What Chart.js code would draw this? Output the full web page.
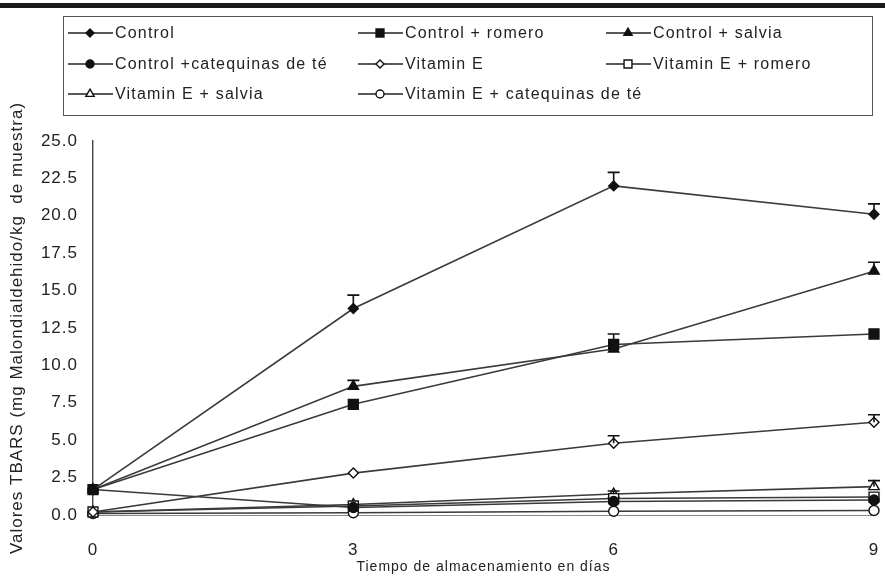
<!DOCTYPE html>
<html>
<head>
<meta charset="utf-8">
<script src="https://cdn.jsdelivr.net/npm/chart.js@4.4.1/dist/chart.umd.min.js"></script>
<style>
  html, body { margin: 0; padding: 0; background: #fff; }
  #wrap { width: 885px; height: 581px; position: relative; }
</style>
</head>
<body>
<div id="wrap"><canvas id="canvas"></canvas></div>
<script>
// storage days
var days = [0, 3, 6, 9];

var labels = [
  "Control", "Control + romero", "Control + salvia",
  "Control +catequinas de té", "Vitamin E", "Vitamin E + romero",
  "Vitamin E + salvia", "Vitamin E + catequinas de té"
];

// TBARS values
var control        = [1.7, 13.8, 22.0, 20.1];
var controlRomero  = [1.7, 7.4, 11.4, 12.1];
var controlSalvia  = [1.7, 8.6, 11.1, 16.3];
var controlCateq   = [1.7, 0.5, 0.9, 1.0];
var vitE           = [0.2, 2.8, 4.8, 6.2];
var vitERomero     = [0.2, 0.6, 1.1, 1.2];
var vitESalvia     = [0.2, 0.7, 1.4, 1.9];
var vitECateq      = [0.1, 0.15, 0.25, 0.3];

// upper error bars
var errControl       = [0, 0.9, 0.9, 0.7];
var errControlRomero = [0, 0, 0.7, 0];
var errControlSalvia = [0, 0.4, 0, 0.6];
var errVitE          = [0, 0, 0.5, 0.5];
var errVitESalvia    = [0, 0, 0.2, 0.4];

var yTicks = [0, 2.5, 5, 7.5, 10, 12.5, 15, 17.5, 20, 22.5, 25];

var seriesValues = [control, controlRomero, controlSalvia, controlCateq, vitE, vitERomero, vitESalvia, vitECateq];
var seriesErrors = [errControl, errControlRomero, errControlSalvia, null, errVitE, null, errVitESalvia, null];
var styles  = ['rectRot', 'rect', 'triangle', 'circle', 'rectRot', 'rect', 'triangle', 'circle'];
var filled  = [true, true, true, true, false, false, false, false];
var radii   = [5, 7, 6, 5, 5, 7, 6, 5];

var FONT = '"Liberation Sans", Arial, sans-serif';

var datasets = [];
for (var i in seriesValues) {
  var pts = [];
  for (var j in days) pts.push({x: days[j], y: seriesValues[i][j]});
  datasets.push({
    label: labels[i],
    data: pts,
    errors: seriesErrors[i],
    clip: false,
    borderColor: '#3a3a3a',
    borderWidth: 1.6,
    pointStyle: styles[i],
    pointRadius: radii[i],
    pointBorderWidth: 1.4,
    pointBorderColor: '#111',
    pointBackgroundColor: filled[i] ? '#111' : '#fff',
    tension: 0
  });
}

// the scan's lettering is a bit wider than plain Arial
var spacing = {
  id: 'spacing',
  beforeDraw: function(chart) { chart.ctx.letterSpacing = '1px'; }
};

var errorBars = {
  id: 'errorBars',
  afterDatasetsDraw: function(chart) {
    var ctx = chart.ctx, xs = chart.scales.x, ys = chart.scales.y;
    ctx.save();
    ctx.strokeStyle = '#111';
    ctx.lineWidth = 1.6;
    chart.data.datasets.forEach(function(ds) {
      if (!ds.errors) return;
      ds.data.forEach(function(p, k) {
        var e = ds.errors[k];
        if (!e) return;
        var x = xs.getPixelForValue(p.x);
        var y0 = ys.getPixelForValue(p.y);
        var y1 = ys.getPixelForValue(p.y + e);
        ctx.beginPath();
        ctx.moveTo(x, y0); ctx.lineTo(x, y1);
        ctx.moveTo(x - 6, y1); ctx.lineTo(x + 6, y1);
        ctx.stroke();
      });
    });
    ctx.restore();
  }
};

var boxLegend = {
  id: 'boxLegend',
  afterDraw: function(chart) {
    var ctx = chart.ctx;
    ctx.save();
    // page rule on top
    ctx.fillStyle = '#1a1a1a';
    ctx.fillRect(0, 3, 885, 5);
    // legend frame
    ctx.strokeStyle = '#555';
    ctx.lineWidth = 1;
    ctx.strokeRect(63.5, 16.5, 809, 99);
    var cols = [68, 358, 606];
    var rows = [33, 64, 94];
    ctx.font = '16px ' + FONT;
    ctx.letterSpacing = '1.2px';
    ctx.textBaseline = 'middle';
    chart.data.datasets.forEach(function(ds, i) {
      var x = cols[i % 3], y = rows[Math.floor(i / 3)];
      ctx.strokeStyle = '#222';
      ctx.lineWidth = 1.6;
      ctx.beginPath(); ctx.moveTo(x, y); ctx.lineTo(x + 45, y); ctx.stroke();
      ctx.fillStyle = ds.pointBackgroundColor;
      ctx.strokeStyle = '#111';
      ctx.lineWidth = 1.4;
      Chart.helpers.drawPoint(ctx, {pointStyle: ds.pointStyle, radius: ds.pointRadius * 0.8, borderWidth: 1.4, rotation: 0}, x + 22, y);
      ctx.fillStyle = '#222';
      ctx.fillText(ds.label, x + 47, y + 1);
    });
    ctx.restore();
  }
};

var c = document.getElementById('canvas');
var chart = new Chart(c, {
  type: 'line',
  data: { datasets: datasets },
  options: {
    responsive: true,
    maintainAspectRatio: false,
    animation: false,
    layout: { padding: { top: 141, right: 11, left: 0, bottom: 0 } },
    plugins: { legend: { display: false }, tooltip: { enabled: false } },
    scales: {
      x: {
        type: 'linear', min: 0, max: 9,
        afterBuildTicks: function(s) { s.ticks = days.map(function(d) { return {value: d}; }); },
        afterFit: function(s) { s.height = 66; s.paddingRight = 0; s.paddingLeft = 0; },
        grid: { display: false, drawTicks: true, tickLength: 6, color: '#555' },
        border: { display: true, color: '#888', width: 1 },
        ticks: { color: '#222', padding: 19, font: { size: 17, family: FONT } },
        title: { display: true, text: 'Tiempo de almacenamiento en días', color: '#222',
                 font: { size: 14, family: FONT }, padding: { top: 2, bottom: 5 } }
      },
      y: {
        min: 0, max: 25,
        afterBuildTicks: function(s) { s.ticks = yTicks.map(function(v) { return {value: v}; }); },
        afterFit: function(s) { s.width = 93; },
        grid: { display: false, drawTicks: true, tickLength: 6 },
        border: { display: true, color: '#444', width: 1.4 },
        ticks: { color: '#222', padding: 9, font: { size: 17, family: FONT },
                 callback: function(v) { return Number(v).toFixed(1); } },
        title: { display: true, text: 'Valores TBARS (mg Malondialdehido/kg  de muestra)', color: '#222',
                 font: { size: 17, family: FONT }, padding: { top: 7, bottom: 2 } }
      }
    }
  },
  plugins: [spacing, errorBars, boxLegend]
});
</script>
</body>
</html>
